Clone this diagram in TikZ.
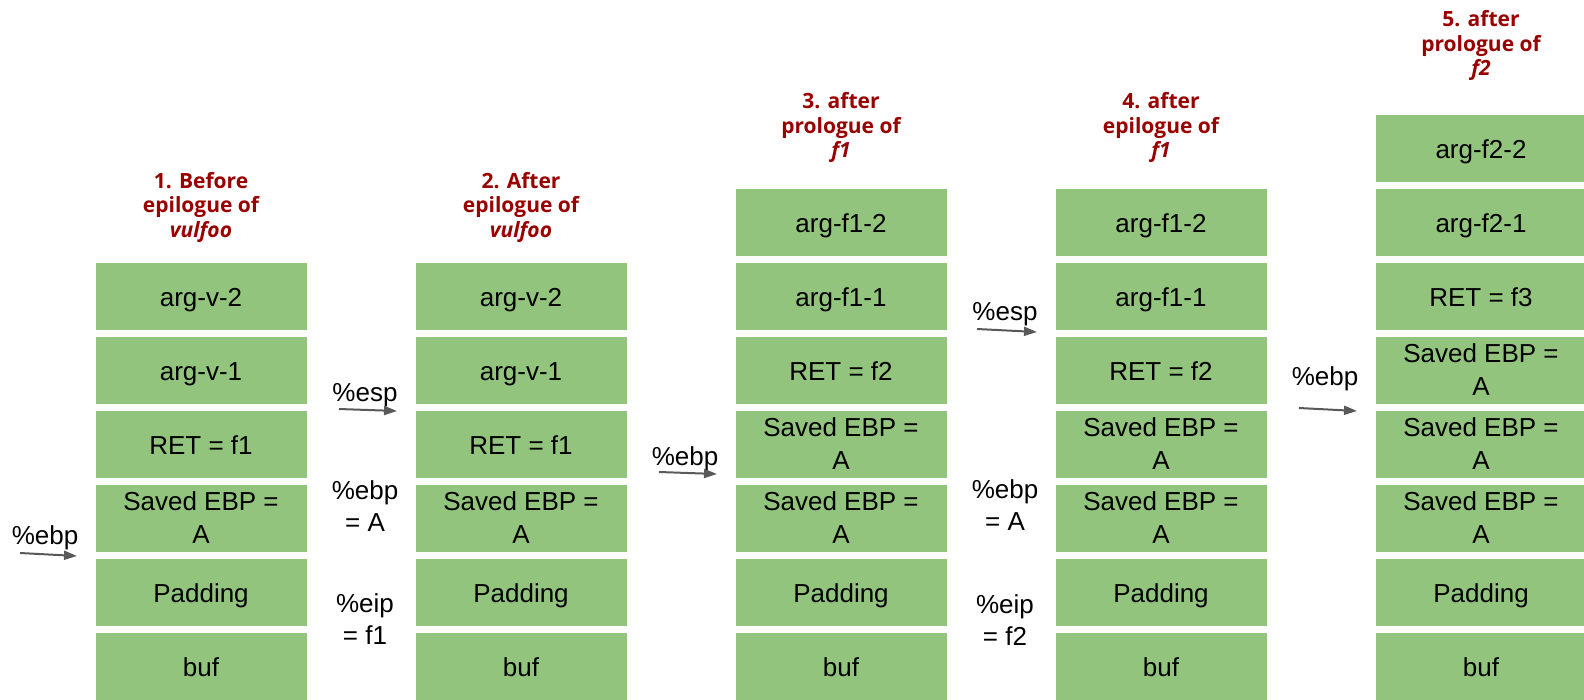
\documentclass[tikz,border=0pt]{standalone}
\usepackage{fontspec}
\setmainfont{Liberation Sans}
\newfontfamily\titlefont{Open Sans}
\usetikzlibrary{arrows.meta}
\definecolor{cellgreen}{HTML}{93C47D}
\definecolor{titlered}{HTML}{990000}
\definecolor{ptrgray}{HTML}{595959}

\tikzset{
	slot/.style={fill=cellgreen, minimum width=211pt, minimum height=67pt, inner sep=0pt, align=center, font=\fontsize{26}{33}\selectfont},
	cell/.style={slot, text height=24pt, text depth=4pt},
	cellpair/.style={slot},
	heading/.style={text=titlered, align=center, font=\titlefont\bfseries\fontsize{21}{24.5}\selectfont},
	reg/.style={align=center, inner sep=0pt, font=\fontsize{26}{32}\selectfont},
	ptr/.style={-{Triangle[length=13pt,width=9pt]}, ptrgray, line width=2pt}
}

\begin{document}
\begin{tikzpicture}[x=1pt,y=-1pt]
\useasboundingbox (0,0) rectangle (1584,699);

\node[heading] (t1) at (201,207) {1. Before\\epilogue of\\\textit{vulfoo}};
\node[cell] (v1-buf) at (201,666) {buf};
\node[cell] (v1-pad) at (201,592) {Padding};
\node[cellpair] (v1-ebp) at (201,518) {Saved EBP =\\A};
\node[cell] (v1-ret) at (201,444) {RET = f1};
\node[cell] (v1-arg1) at (201,370) {arg-v-1};
\node[cell] (v1-arg2) at (201,296) {arg-v-2};

\node[heading] (t2) at (521,207) {2. After\\epilogue of\\\textit{vulfoo}};
\node[cell] (v2-buf) at (521,666) {buf};
\node[cell] (v2-pad) at (521,592) {Padding};
\node[cellpair] (v2-ebp) at (521,518) {Saved EBP =\\A};
\node[cell] (v2-ret) at (521,444) {RET = f1};
\node[cell] (v2-arg1) at (521,370) {arg-v-1};
\node[cell] (v2-arg2) at (521,296) {arg-v-2};

\node[heading] (t3) at (841,127.5) {3. after\\prologue of\\\textit{f1}};
\node[cell] (f3-buf) at (841,666) {buf};
\node[cell] (f3-pad) at (841,592) {Padding};
\node[cellpair] (f3-ebpa) at (841,518) {Saved EBP =\\A};
\node[cellpair] (f3-ebpb) at (841,444) {Saved EBP =\\A};
\node[cell] (f3-ret) at (841,370) {RET = f2};
\node[cell] (f3-arg1) at (841,296) {arg-f1-1};
\node[cell] (f3-arg2) at (841,222) {arg-f1-2};

\node[heading] (t4) at (1161,127.5) {4. after\\epilogue of\\\textit{f1}};
\node[cell] (f4-buf) at (1161,666) {buf};
\node[cell] (f4-pad) at (1161,592) {Padding};
\node[cellpair] (f4-ebpa) at (1161,518) {Saved EBP =\\A};
\node[cellpair] (f4-ebpb) at (1161,444) {Saved EBP =\\A};
\node[cell] (f4-ret) at (1161,370) {RET = f2};
\node[cell] (f4-arg1) at (1161,296) {arg-f1-1};
\node[cell] (f4-arg2) at (1161,222) {arg-f1-2};

\node[heading] (t5) at (1481,45.5) {5. after\\prologue of\\\textit{f2}};
\node[cell] (f5-buf) at (1481,666) {buf};
\node[cell] (f5-pad) at (1481,592) {Padding};
\node[cellpair] (f5-ebpa) at (1481,518) {Saved EBP =\\A};
\node[cellpair] (f5-ebpb) at (1481,444) {Saved EBP =\\A};
\node[cellpair] (f5-ebpc) at (1481,370) {Saved EBP =\\A};
\node[cell] (f5-ret) at (1481,296) {RET = f3};
\node[cell] (f5-arg1) at (1481,222) {arg-f2-1};
\node[cell] (f5-arg2) at (1481,148) {arg-f2-2};

\node[reg] (ebp0) at (45,538) {\%ebp};
\coordinate (ebp0-from) at (20,553);
\coordinate (ebp0-to) at (77,556);
\draw[ptr] (ebp0-from) -- (ebp0-to);

\node[reg] (esp1) at (365,395) {\%esp};
\coordinate (esp1-from) at (339,409);
\coordinate (esp1-to) at (397,411);
\draw[ptr] (esp1-from) -- (esp1-to);
\node[reg] (ebp1) at (365,506) {\%ebp\\= A};
\node[reg] (eip1) at (365,619) {\%eip\\= f1};

\node[reg] (ebp2) at (685,459) {\%ebp};
\coordinate (ebp2-from) at (659,472);
\coordinate (ebp2-to) at (717,474);
\draw[ptr] (ebp2-from) -- (ebp2-to);

\node[reg] (esp3) at (1005,314) {\%esp};
\coordinate (esp3-from) at (977,329);
\coordinate (esp3-to) at (1037,332);
\draw[ptr] (esp3-from) -- (esp3-to);
\node[reg] (ebp3) at (1005,505) {\%ebp\\= A};
\node[reg] (eip3) at (1005,620) {\%eip\\= f2};

\node[reg] (ebp4) at (1325,379) {\%ebp};
\coordinate (ebp4-from) at (1299,408);
\coordinate (ebp4-to) at (1357,411);
\draw[ptr] (ebp4-from) -- (ebp4-to);
\end{tikzpicture}
\end{document}
